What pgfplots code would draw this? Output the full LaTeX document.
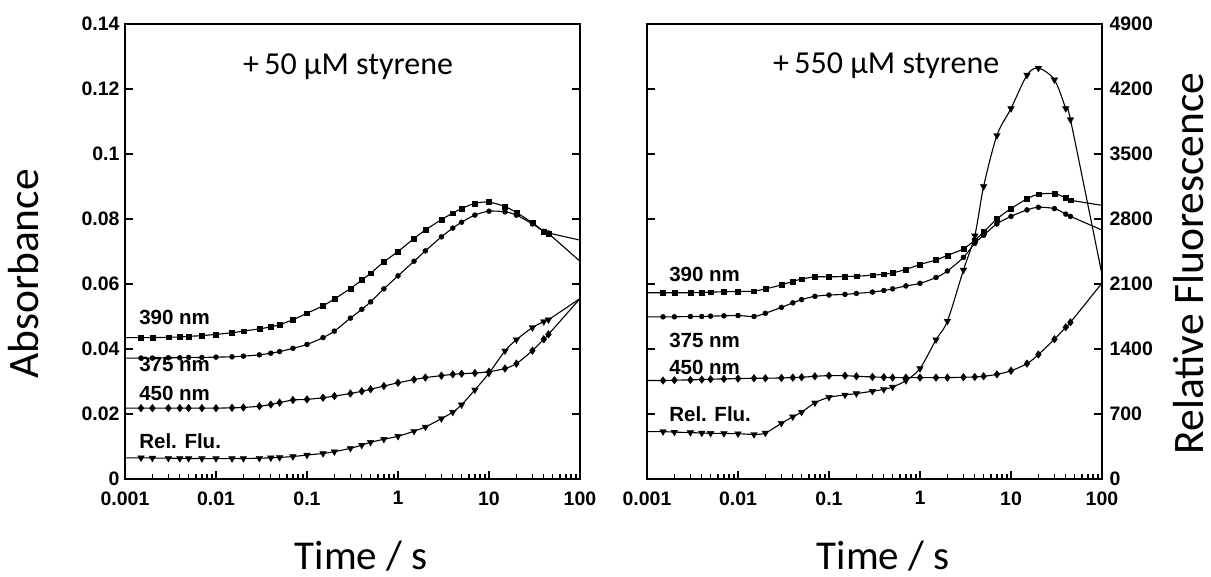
\documentclass[border=0pt]{standalone}
\usepackage{pgfplots}
\pgfplotsset{compat=1.18}
\usepackage{pgfplotstable}
\usepackage{fontspec}
\setmainfont{Carlito}
\newfontfamily\tickfont{Liberation Sans}

% columns: time (s), value
\pgfplotstableread{
x y
0.001 0.0435
0.0015 0.0435
0.002 0.0435
0.003 0.0436
0.004 0.0437
0.005 0.0439
0.007 0.0441
0.01 0.0445
0.015 0.0450
0.02 0.0455
0.03 0.0462
0.04 0.0468
0.05 0.0475
0.07 0.0490
0.1 0.0510
0.15 0.0533
0.2 0.0554
0.3 0.0586
0.4 0.0612
0.5 0.0633
0.7 0.0668
1 0.0700
1.5 0.0740
2 0.0766
3 0.0798
4 0.0818
5 0.0832
7 0.0848
10 0.0852
15 0.0838
20 0.0820
30 0.0788
40 0.0762
45 0.0755
100 0.0670
}\LA
\pgfplotstableread{
x y
0.001 0.0372
0.0015 0.0372
0.002 0.0372
0.003 0.0373
0.004 0.0373
0.005 0.0374
0.007 0.0374
0.01 0.0375
0.015 0.0376
0.02 0.0378
0.03 0.0382
0.04 0.0387
0.05 0.0392
0.07 0.0402
0.1 0.0414
0.15 0.0435
0.2 0.0455
0.3 0.0495
0.4 0.0522
0.5 0.0545
0.7 0.0585
1 0.0625
1.5 0.0670
2 0.0702
3 0.0745
4 0.0772
5 0.0790
7 0.0812
10 0.0824
15 0.0822
20 0.0812
30 0.0785
40 0.0762
45 0.0757
100 0.0735
}\LB
\pgfplotstableread{
x y
0.001 0.0218
0.0015 0.0218
0.002 0.0218
0.003 0.0218
0.004 0.0218
0.005 0.0218
0.007 0.0218
0.01 0.0218
0.015 0.0219
0.02 0.0220
0.03 0.0224
0.04 0.0229
0.05 0.0235
0.07 0.0243
0.1 0.0245
0.15 0.0250
0.2 0.0255
0.3 0.0263
0.4 0.0270
0.5 0.0276
0.7 0.0286
1 0.0296
1.5 0.0306
2 0.0312
3 0.0318
4 0.0322
5 0.0324
7 0.0326
10 0.0330
15 0.0340
20 0.0355
30 0.0395
40 0.0430
45 0.0445
100 0.0555
}\LC
\pgfplotstableread{
x y
0.001 228
0.0015 228
0.002 226
0.003 224
0.004 222
0.005 221
0.007 220
0.01 220
0.015 220
0.02 221
0.03 224
0.04 228
0.05 232
0.07 242
0.1 258
0.15 275
0.2 294
0.3 330
0.4 365
0.5 395
0.7 428
1 460
1.5 515
2 560
3 650
4 720
5 800
7 960
10 1140
15 1380
20 1500
30 1630
40 1695
45 1715
100 1943
}\LD
\pgfplotstableread{
x y
0.001 0.0573
0.0015 0.0573
0.002 0.0573
0.003 0.0573
0.004 0.0574
0.005 0.0575
0.007 0.0576
0.01 0.0577
0.015 0.0578
0.02 0.0585
0.03 0.0597
0.04 0.0608
0.05 0.0615
0.07 0.0622
0.1 0.0622
0.15 0.0623
0.2 0.0624
0.3 0.0627
0.4 0.0630
0.5 0.0634
0.7 0.0645
1 0.0660
1.5 0.0674
2 0.0688
3 0.0708
4 0.0735
5 0.0760
7 0.0800
10 0.0832
15 0.0862
20 0.0876
30 0.0878
40 0.0865
45 0.0858
100 0.0842
}\RA
\pgfplotstableread{
x y
0.001 0.0499
0.0015 0.0499
0.002 0.0499
0.003 0.0500
0.004 0.0500
0.005 0.0501
0.007 0.0502
0.01 0.0503
0.015 0.0500
0.02 0.0510
0.03 0.0528
0.04 0.0542
0.05 0.0552
0.07 0.0562
0.1 0.0566
0.15 0.0568
0.2 0.0571
0.3 0.0575
0.4 0.0580
0.5 0.0585
0.7 0.0594
1 0.0602
1.5 0.0620
2 0.0640
3 0.0682
4 0.0725
5 0.0750
7 0.0785
10 0.0808
15 0.0828
20 0.0836
30 0.0832
40 0.0815
45 0.0808
100 0.0766
}\RB
\pgfplotstableread{
x y
0.001 0.0303
0.0015 0.0303
0.002 0.0304
0.003 0.0305
0.004 0.0306
0.005 0.0307
0.007 0.0308
0.01 0.0309
0.015 0.0310
0.02 0.0310
0.03 0.0311
0.04 0.0312
0.05 0.0313
0.07 0.0316
0.1 0.0318
0.15 0.0318
0.2 0.0316
0.3 0.0314
0.4 0.0313
0.5 0.0312
0.7 0.0312
1 0.0312
1.5 0.0312
2 0.0312
3 0.0313
4 0.0314
5 0.0316
7 0.0322
10 0.0333
15 0.0355
20 0.0383
30 0.0430
40 0.0467
45 0.0482
100 0.0603
}\RC
\pgfplotstableread{
x y
0.001 510
0.0015 510
0.002 505
0.003 500
0.004 495
0.005 492
0.007 490
0.01 488
0.015 480
0.02 495
0.03 600
0.04 670
0.05 720
0.07 820
0.1 880
0.15 905
0.2 920
0.3 945
0.4 965
0.5 990
0.7 1060
1 1190
1.5 1500
2 1700
3 2250
4 2620
5 3150
7 3700
10 3990
15 4350
20 4425
30 4300
40 3990
45 3870
100 2200
}\RH

\pgfplotsset{
  myaxbase/.style={
    scale only axis, height=455pt, width=455pt, xmin=0.001, xmax=100,
    clip=false,
    tick align=inside,
    major tick length=8pt, minor tick length=5pt,
    every tick/.style={black, line width=1.4pt},
    axis line style={line width=2pt},
    ticklabel style={font=\tickfont\bfseries\fontsize{19.5}{21}\selectfont},
    xtick={0.001,0.01,0.1,1,10,100},
    xticklabels={0.001,0.01,0.1,1,10,100},
    xtick pos=left,
    xticklabel style={yshift=-9pt},
  },
  myabsy/.style={ymin=0, ymax=0.14, ytick={0,0.02,0.04,0.06,0.08,0.1,0.12,0.14}, ytick pos=both},
  myfit/.style={black, line width=1.1pt, smooth, mark=none},
  mypts/.style={black, only marks, skip coords between index={0}{1}, skip coords between index={34}{35}},
}
\tikzset{
  mylab/.style={font=\tickfont\bfseries\fontsize{20.5}{22}\selectfont, anchor=base west, inner sep=0pt},
  mytitle/.style={anchor=base west, inner sep=0pt, font=\fontsize{32}{34}\selectfont},
  mybig/.style={anchor=base, inner sep=0pt, font=\fontsize{43.5}{46}\selectfont},
}

\begin{document}
\begin{tikzpicture}
% ---------- left panel ----------
\begin{semilogxaxis}[myaxbase, myabsy, at={(125pt,98pt)}, anchor=south west,
  yticklabels={0,0.02,0.04,0.06,0.08,0.1,0.12,0.14},
  yticklabel style={xshift=-2pt}]
\addplot[myfit] table {\LA};
\addplot[mypts, mark=square*, mark size=2.4pt] table {\LA};
\addplot[myfit] table {\LB};
\addplot[mypts, mark=*, mark size=2.5pt] table {\LB};
\addplot[myfit] table {\LC};
\addplot[mypts, mark=diamond*, mark size=3.8pt] table {\LC};
\node[mylab] at (axis cs:0.00143,0.0474) {390 nm};
\node[mylab] at (axis cs:0.00143,0.0330) {375 nm};
\node[mylab] at (axis cs:0.00143,0.0243) {450 nm};
\node[mylab] at (axis cs:0.00143,0.0093) {Rel. Flu.};
\node[mytitle] at (axis description cs:0.259,0.888) {+\,50 µM styrene};
\node[mybig, rotate=90] at (axis description cs:-0.191,0.4505) {Absorbance};
\node[mybig, font=\fontsize{41}{44}\selectfont] at (axis description cs:0.519,-0.200) {Time / s};
\end{semilogxaxis}
\begin{semilogxaxis}[myaxbase, hide axis, at={(125pt,98pt)}, anchor=south west, ymin=0, ymax=4900]
\addplot[myfit] table {\LD};
\addplot[mypts, mark=triangle*, mark size=3.8pt, mark options={rotate=180}] table {\LD};
\end{semilogxaxis}
% ---------- right panel ----------
\begin{semilogxaxis}[myaxbase, myabsy, at={(647pt,98pt)}, anchor=south west,
  yticklabels={}]
\addplot[myfit] table {\RA};
\addplot[mypts, mark=square*, mark size=2.4pt] table {\RA};
\addplot[myfit] table {\RB};
\addplot[mypts, mark=*, mark size=2.5pt] table {\RB};
\addplot[myfit] table {\RC};
\addplot[mypts, mark=diamond*, mark size=3.8pt] table {\RC};
\node[mylab] at (axis cs:0.00175,0.0607) {390 nm};
\node[mylab] at (axis cs:0.00175,0.0406) {375 nm};
\node[mylab] at (axis cs:0.00175,0.0323) {450 nm};
\node[mylab] at (axis cs:0.00175,0.0176) {Rel. Flu.};
\node[mytitle] at (axis description cs:0.277,0.892) {+\,550 µM styrene};
\node[mybig, font=\fontsize{41}{44}\selectfont] at (axis description cs:0.519,-0.200) {Time / s};
\node[mybig, rotate=90] at (axis description cs:1.224,0.4736) {Relative Fluorescence};
\end{semilogxaxis}
\begin{semilogxaxis}[myaxbase, at={(647pt,98pt)}, anchor=south west,
  axis x line=none, axis y line*=right, ymin=0, ymax=4900,
  ytick={0,700,1400,2100,2800,3500,4200,4900},
  yticklabels={0,700,1400,2100,2800,3500,4200,4900},
  yticklabel style={xshift=4pt}]
\addplot[myfit] table {\RH};
\addplot[mypts, mark=triangle*, mark size=3.8pt, mark options={rotate=180}] table {\RH};
\end{semilogxaxis}
\pgfresetboundingbox
\path (0,0) rectangle (1211pt,577pt);
\end{tikzpicture}
\end{document}
